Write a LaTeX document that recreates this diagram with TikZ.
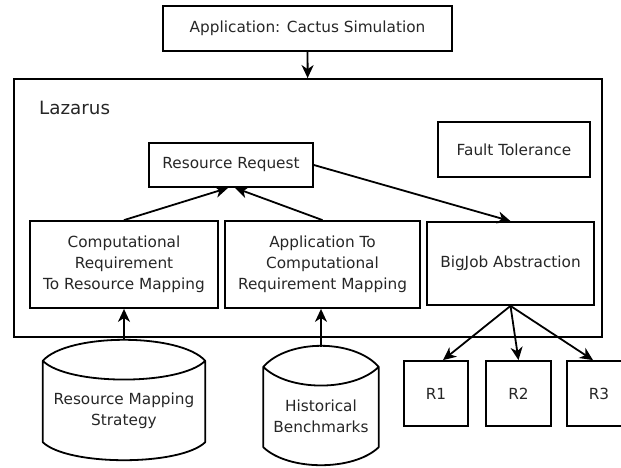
\documentclass[tikz,border=0pt]{standalone}
\usepackage{fontspec}
\setmainfont{DejaVu Sans}
\usetikzlibrary{calc, arrows.meta}

% outline of a storage drum round a named node
\newcommand\drum[1]{%
  \draw[line width=1.8pt, line join=round]
    (#1.north west) .. controls +(25,-28) and +(-25,-28) .. (#1.north east)
    .. controls +(-25,25) and +(25,25) .. (#1.north west)
    -- ($(#1.south west)+(0,-18)$)
    .. controls +(25,24) and +(-25,24) .. ($(#1.south east)+(0,-18)$)
    -- (#1.north east);}

\begin{document}
\begin{tikzpicture}[x=1pt,y=-1pt,
    box/.style={draw, line width=1.8pt, align=center, inner sep=0pt,
      text=black!85, font=\fontsize{15.3}{21}\selectfont},
    drumtext/.style={align=center, inner sep=0pt, text=black!85,
      font=\fontsize{15.3}{21}\selectfont},
    arr/.style={-{Stealth[length=13pt,width=12pt,inset=4pt]}, line width=1.8pt}]
  \useasboundingbox (0,0) rectangle (621,467);

  \node[box, minimum width=289pt, minimum height=45pt] (app) at (307.5,28.5) {Application: Cactus Simulation};
  \node[box, minimum width=588pt, minimum height=258pt] (laz) at (308,208) {};
  \node[anchor=west, inner sep=0pt, text=black!85, font=\fontsize{18.3}{22}\selectfont] (lazlabel) at (39,108) {Lazarus};

  \node[box, minimum width=152pt, minimum height=55pt] (ft) at (514,149.5) {Fault Tolerance};
  \node[box, minimum width=164pt, minimum height=44pt] (rr) at (231,165) {Resource Request};
  \node[box, minimum width=188pt, minimum height=87pt] (comp) at (124,264.5) {Computational\\Requirement\\To Resource Mapping};
  \node[box, minimum width=195pt, minimum height=87pt] (appto) at (322.5,264.5) {Application To\\Computational\\Requirement Mapping};
  \node[box, minimum width=167pt, minimum height=83pt] (bj) at (510.5,263.5) {BigJob Abstraction};

  \node[box, minimum width=64pt, minimum height=65pt] (r1) at (436,393.5) {R1};
  \node[box, minimum width=65pt, minimum height=65pt] (r2) at (518.5,393.5) {R2};
  \node[box, minimum width=64pt, minimum height=65pt] (r3) at (599,393.5) {R3};

  \node[drumtext, minimum width=162pt, minimum height=99pt] (rms) at (124,410.5) {Resource Mapping\\Strategy};
  \node[drumtext, minimum width=115pt, minimum height=98pt] (hb) at (321,416) {Historical\\Benchmarks};
  \drum{rms}
  \drum{hb}
  \path (rms.north) ++(0,-21) coordinate (rmstop);
  \path (hb.north) ++(0,-20) coordinate (hbtop);

  \path[arr]
    (app) edge (laz)
    (comp.north) edge ([xshift=-3pt]rr.south)
    (appto.north) edge ([xshift=4pt]rr.south)
    (rr.east) edge (bj.north)
    (bj.south) edge ([xshift=7pt]r1.north)
    (bj.south) edge (r2.north)
    (bj.south) edge ([xshift=-6pt]r3.north)
    (rmstop) edge (comp.south)
    (hbtop) edge (hbtop |- appto.south);
\end{tikzpicture}
\end{document}
